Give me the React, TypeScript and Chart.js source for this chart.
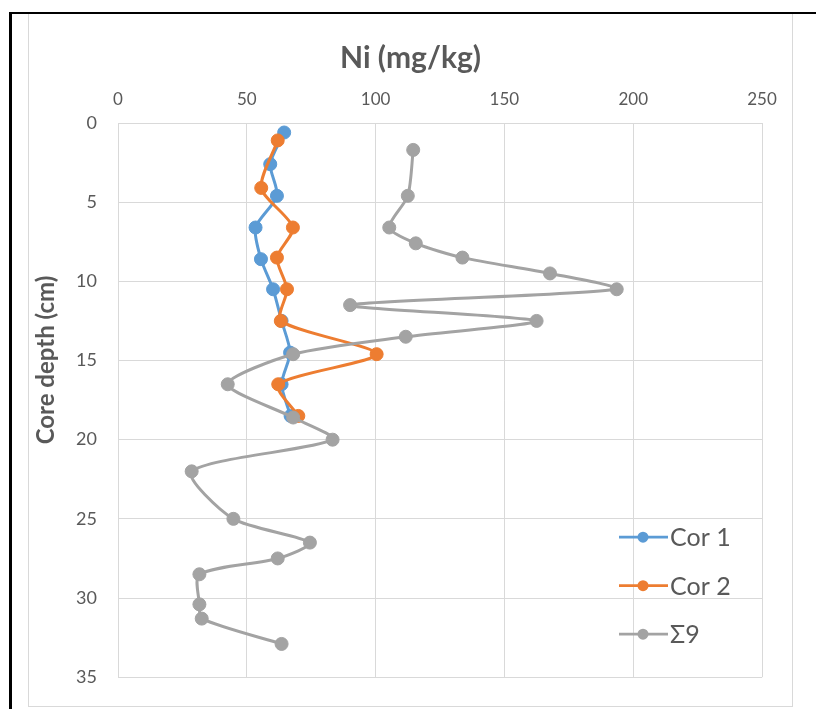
import { useEffect, useRef } from "react";
import { Chart, registerables } from "chart.js";

Chart.register(...registerables);

// Ni concentration (mg/kg) against core depth (cm)
const depthCor1 = [0.6, 2.6, 4.6, 6.6, 8.6, 10.5, 12.5, 14.5, 16.5, 18.5];
const niCor1 = [64.5, 59.1, 61.7, 53.4, 55.5, 60.2, 63.5, 66.8, 63.5, 67];

const depthCor2 = [1.1, 4.1, 6.6, 8.5, 10.5, 12.5, 14.6, 16.5, 18.5];
const niCor2 = [62, 55.6, 67.9, 61.7, 65.6, 63.2, 100.4, 62.2, 70];

const depthSum9 = [1.7, 4.6, 6.6, 7.6, 8.5, 9.5, 10.5, 11.5, 12.5, 13.5, 14.6, 16.5, 18.6, 20, 22, 25, 26.5, 27.5, 28.5, 30.4, 31.3, 32.9];
const niSum9 = [114.6, 112.5, 105.3, 115.6, 133.7, 167.7, 193.6, 90.1, 162.5, 111.7, 68, 42.6, 68, 83.3, 28.6, 44.8, 74.5, 62, 31.6, 31.6, 32.5, 63.5];

const seriesLabels = ["Cor 1", "Cor 2", "Σ9"];
const seriesColors = ["#5b9bd5", "#ed7d31", "#a3a3a3"];

const xTitle = "Ni (mg/kg)";
const yTitle = "Core depth (cm)";
const xMin = 0, xMax = 250, xStep = 50;
const yMin = 0, yMax = 35, yStep = 5;

const W = 816;
const H = 709;
const FONT = "Lato, 'Open Sans', sans-serif";
const TEXT = "#595959";
const GRID = "#d9d9d9";
// outer chart box (light frame)
const BOX = { left: 28.5, top: 13.5, right: 792.5, bottom: 706.5 };

const toPoints = (xs: number[], ys: number[]) => xs.map((x, i) => ({ x, y: ys[i] }));

const framePlugin = {
  id: "frame",
  beforeDraw(chart: any) {
    const { ctx } = chart;
    ctx.save();
    ctx.fillStyle = "#ffffff";
    ctx.fillRect(0, 0, W, H);
    ctx.strokeStyle = GRID;
    ctx.lineWidth = 1;
    ctx.strokeRect(BOX.left, BOX.top, BOX.right - BOX.left, BOX.bottom - BOX.top);
    ctx.fillStyle = "#000000";
    ctx.fillRect(9, 12, 3, H - 12);
    ctx.fillRect(9, 12, W - 9, 2);
    ctx.restore();
  },
};

const titlesPlugin = {
  id: "boxTitles",
  afterDraw(chart: any) {
    const { ctx } = chart;
    ctx.save();
    ctx.fillStyle = TEXT;
    ctx.textAlign = "center";
    ctx.textBaseline = "middle";
    ctx.font = `bold 30px ${FONT}`;
    ctx.fillText(xTitle, (BOX.left + BOX.right) / 2, 58);
    ctx.translate(46, (BOX.top + BOX.bottom) / 2);
    ctx.rotate(-Math.PI / 2);
    ctx.font = `bold 24px ${FONT}`;
    ctx.fillText(yTitle, 0, 0);
    ctx.restore();
  },
};

const legendPlugin = {
  id: "insideLegend",
  afterDraw(chart: any) {
    const { ctx, chartArea } = chart;
    const x0 = chartArea.right - 143;
    chart.data.datasets.forEach((ds: any, i: number) => {
      const y = chartArea.bottom - 140 + i * 48.5;
      ctx.save();
      ctx.strokeStyle = ds.borderColor;
      ctx.lineWidth = 2.75;
      ctx.beginPath();
      ctx.moveTo(x0, y);
      ctx.lineTo(x0 + 49, y);
      ctx.stroke();
      ctx.fillStyle = ds.backgroundColor;
      ctx.beginPath();
      ctx.arc(x0 + 24, y, 5.5, 0, Math.PI * 2);
      ctx.fill();
      ctx.fillStyle = TEXT;
      ctx.font = `25px ${FONT}`;
      ctx.textAlign = "left";
      ctx.textBaseline = "middle";
      ctx.fillText(ds.label, x0 + 51, y + 1);
      ctx.restore();
    });
  },
};

export default function App() {
  const canvasRef = useRef<HTMLCanvasElement | null>(null);

  useEffect(() => {
    if (!canvasRef.current) return;
    const series = [
      toPoints(niCor1, depthCor1),
      toPoints(niCor2, depthCor2),
      toPoints(niSum9, depthSum9),
    ];
    const chart = new Chart(canvasRef.current, {
      type: "scatter",
      data: {
        datasets: series.map((data, i) => ({
          label: seriesLabels[i],
          data,
          showLine: true,
          borderColor: seriesColors[i],
          backgroundColor: seriesColors[i],
          borderWidth: 3,
          pointRadius: 6.5,
          pointBorderWidth: 1,
          pointBorderColor: seriesColors[i],
          tension: 0.25,
          order: 3 - i,
        })),
      },
      options: {
        animation: false,
        responsive: false,
        devicePixelRatio: 1,
        layout: { padding: { left: 20, right: 54, top: 83, bottom: 27 } },
        plugins: {
          legend: { display: false },
          tooltip: { enabled: false },
          title: { display: false },
        },
        scales: {
          x: {
            type: "linear",
            position: "top",
            min: xMin,
            max: xMax,
            ticks: { stepSize: xStep, padding: 13, color: TEXT, font: { family: FONT, size: 17 } },
            grid: { color: GRID, lineWidth: 1, drawTicks: false },
            border: { display: false },
            afterFit: (scale: any) => {
              scale.height = 40;
            },
          },
          y: {
            type: "linear",
            reverse: true,
            min: yMin,
            max: yMax,
            ticks: { stepSize: yStep, padding: 21, color: TEXT, font: { family: FONT, size: 18 } },
            grid: { color: GRID, lineWidth: 1, drawTicks: false },
            border: { display: false },
            afterFit: (scale: any) => {
              scale.width = 98;
            },
          },
        },
      },
      plugins: [framePlugin, titlesPlugin, legendPlugin],
    } as any);
    return () => chart.destroy();
  }, []);

  return (
    <div style={{ position: "absolute", left: 0, top: 0, width: W, height: H, background: "#fff" }}>
      <canvas ref={canvasRef} width={W} height={H} style={{ display: "block" }} />
    </div>
  );
}
